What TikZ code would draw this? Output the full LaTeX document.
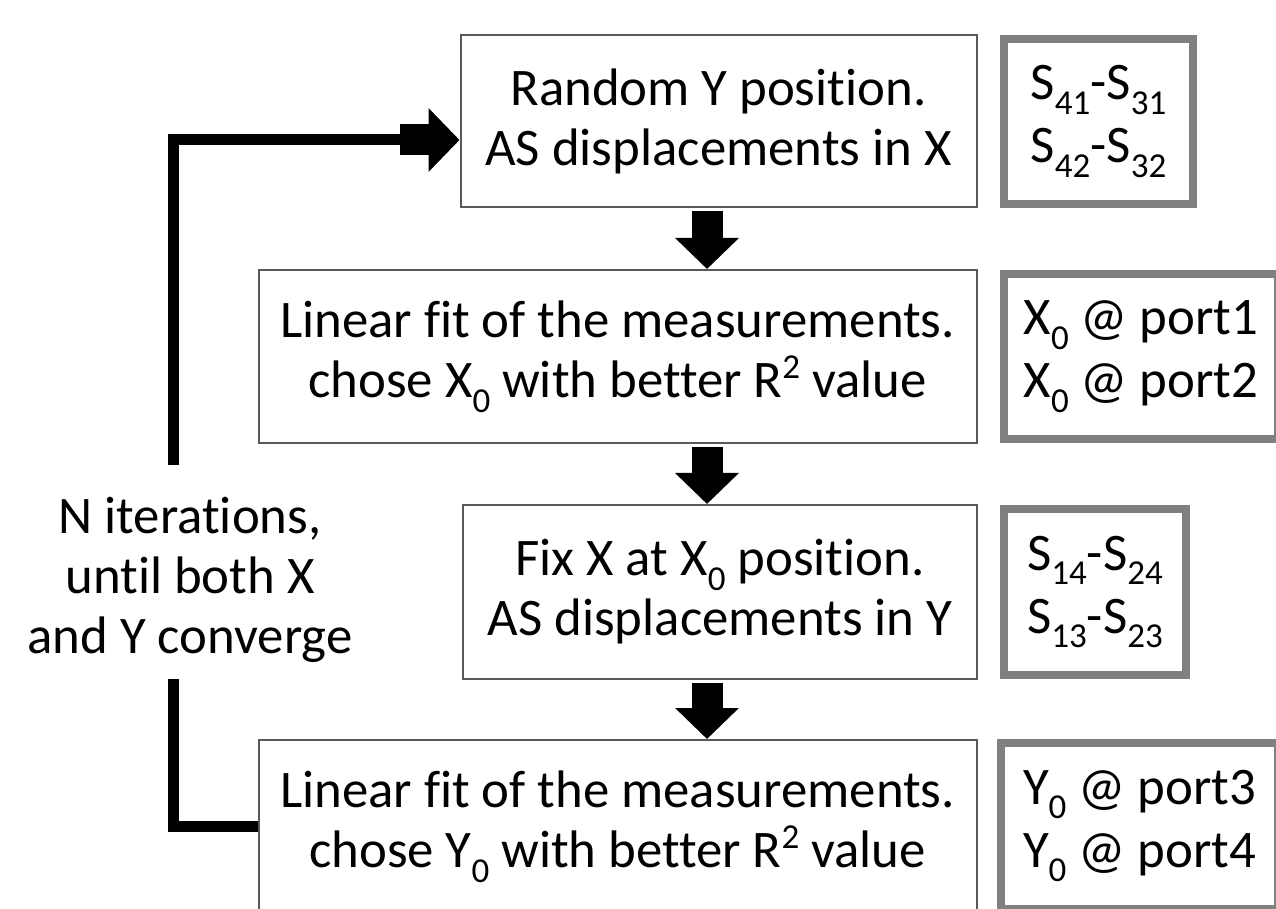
\documentclass[tikz,border=0pt]{standalone}
\usepackage{fontspec}
\setmainfont{Carlito}[Ligatures={NoCommon}]
\usetikzlibrary{arrows.meta}

\newcommand\subidx[1]{\raisebox{-.28em}{\fontsize{17.5}{17.5}\selectfont #1}}
\newcommand\supidx[1]{\raisebox{.36em}{\fontsize{17.5}{17.5}\selectfont #1}}

\begin{document}
\begin{tikzpicture}[x=0.5pt, y=-0.5pt, text=black,
  font=\fontsize{26.4}{30}\selectfont,
  stepbox/.style={rectangle, draw=black!65, line width=1pt, fill=white, align=center, inner sep=0pt},
  notebox/.style={rectangle, draw=black!50, line width=4pt, align=center, inner sep=0pt,
    font=\fontsize{26.4}{31.5}\selectfont},
  flow/.style={line width=15.5pt, -{Triangle[width=31pt, length=15.5pt]}},
  backline/.style={line width=5.5pt}]

  \useasboundingbox (0,0) rectangle (1276,909);

  % steps of the loop
  \node[stepbox, minimum width=258pt, minimum height=86pt] (random) at (718.5,121)
    {Random Y position.\\AS displacements in X};
  \node[stepbox, minimum width=359pt, minimum height=86.5pt] (fitx) at (617.5,356.5)
    {Linear fit of the measurements.\\chose X\subidx{0} with better R\supidx{2} value};
  \node[stepbox, minimum width=257pt, minimum height=87pt] (fixx) at (720,592)
    {Fix X at X\subidx{0} position.\\AS displacements in Y};
  \node[stepbox, minimum width=359pt, minimum height=86.5pt] (fity) at (617.5,826.5)
    {Linear fit of the measurements.\\chose Y\subidx{0} with better R\supidx{2} value};

  % what is measured at each step
  \node[notebox, minimum width=94.5pt, minimum height=82.5pt] (srandom) at (1098.5,121.5)
    {S\subidx{41}-S\subidx{31}\\S\subidx{42}-S\subidx{32}};
  \node[notebox, minimum width=137pt, minimum height=82.5pt] (sfitx) at (1141,356.5)
    {X\subidx{0} @ port1\\X\subidx{0} @ port2};
  \node[notebox, minimum width=91pt, minimum height=83pt] (sfixx) at (1095,592)
    {S\subidx{14}-S\subidx{24}\\S\subidx{13}-S\subidx{23}};
  \node[notebox, minimum width=138.5pt, minimum height=83pt] (sfity) at (1139.5,826)
    {Y\subidx{0} @ port3\\Y\subidx{0} @ port4};

  \node[align=center] (iter) at (190,580) {N iterations,\\until both X\\and Y converge};

  \coordinate (axis) at (707,0);
  \coordinate (up)   at (173,465);
  \coordinate (hook) at (400,140);
  \coordinate (down) at (173,679);

  \draw[flow, shorten <=1.5pt] (random.south -| axis) -- (fitx.north -| axis);
  \draw[flow, shorten <=1.5pt] (fitx.south -| axis) -- (fixx.north -| axis);
  \draw[flow, shorten <=1.5pt] (fixx.south -| axis) -- (fity.north -| axis);

  % back to the start
  \draw[backline] (up) |- (hook);
  \draw[flow] (hook) -- (random.west |- hook);
  \draw[backline] (down) |- (fity.west);
\end{tikzpicture}
\end{document}
